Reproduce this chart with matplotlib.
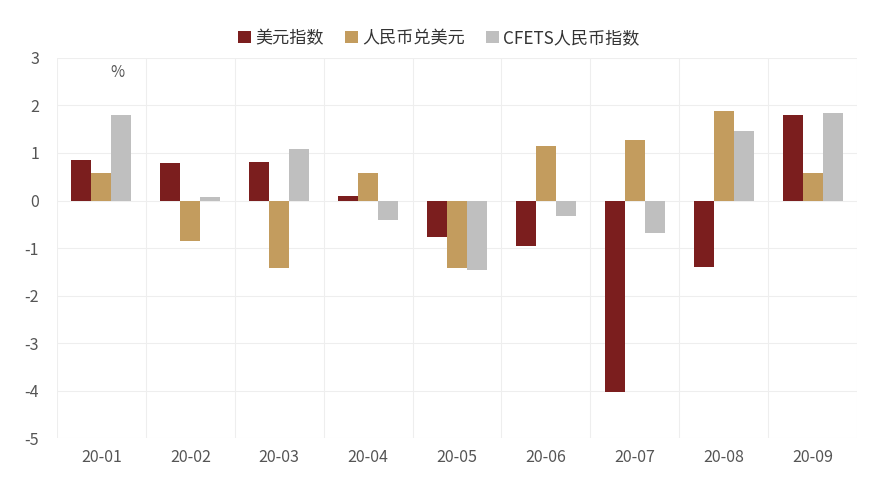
import numpy as np
import matplotlib
matplotlib.use('Agg')
import matplotlib.pyplot as plt

plt.rcParams['font.family'] = ['Noto Sans CJK SC', 'DejaVu Sans']
plt.rcParams['axes.unicode_minus'] = False

### Data
months = ['20-01', '20-02', '20-03', '20-04', '20-05', '20-06', '20-07', '20-08', '20-09']
usd_index = [0.86, 0.78, 0.82, 0.09, -0.76, -0.95, -4.04, -1.39, 1.79]
cny_usd = [0.57, -0.86, -1.43, 0.57, -1.41, 1.14, 1.28, 1.89, 0.57]
cfets = [1.79, 0.08, 1.09, -0.42, -1.47, -0.32, -0.69, 1.47, 1.85]
series_names = ['美元指数', '人民币兑美元', 'CFETS人民币指数']
colors = ['#7B1E1E', '#C39C5E', '#BFBFBF']

### Plot
fig = plt.figure(figsize=(8.9, 4.83), dpi=100)
ax = fig.add_axes([0.064, 0.093, 0.899, 0.787])

x = np.arange(len(months))
w = 0.225
for i, (vals, name, c) in enumerate(zip([usd_index, cny_usd, cfets], series_names, colors)):
    ax.bar(x + (i - 1) * w, vals, width=w, color=c, label=name, zorder=3)

ax.set_xlim(-0.5, len(months) - 0.5)
ax.set_ylim(-5, 3)
ax.set_yticks(range(-5, 4))
ax.set_xticks(x)
ax.set_xticklabels(months)

### Grid: horizontal lines + vertical category separators
ax.yaxis.grid(True, color='#EEEEEE', lw=0.8, zorder=0)
for b in np.arange(-0.5, len(months), 1):
    ax.axvline(b, color='#EEEEEE', lw=0.8, zorder=0)
for s in ax.spines.values():
    s.set_visible(False)
ax.tick_params(axis='both', length=0, colors='#555555', labelsize=11.5)
ax.tick_params(axis='y', pad=13)
ax.tick_params(axis='x', pad=8)

ax.text(0.18, 2.7, '%', ha='center', va='center', fontsize=11, color='#555555')

leg = fig.legend(
    loc='center', bbox_to_anchor=(0.493, 0.921), ncol=3, frameon=False,
    fontsize=12.3, handlelength=0.75, handleheight=0.75, handletextpad=0.25,
    columnspacing=1.25,
)
for t in leg.get_texts():
    t.set_color('#333333')

fig.savefig('out.png', dpi=100)
